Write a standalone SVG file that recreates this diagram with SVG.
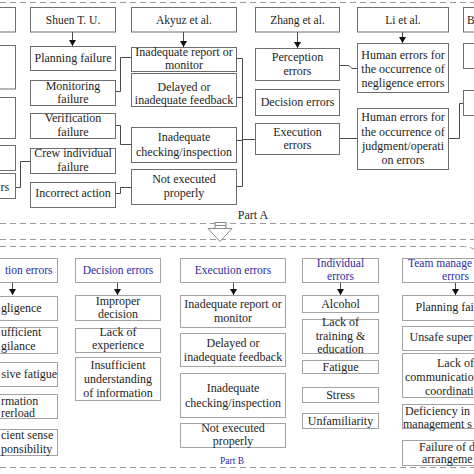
<svg xmlns="http://www.w3.org/2000/svg" width="474" height="474" viewBox="0 0 474 474">
<defs>
<style>
.bA{fill:#fff;stroke:#6e6e6e;stroke-width:1}
.bB{fill:#fff;stroke:#a3a3a3;stroke-width:1}
.t{font-family:"Liberation Serif","Times New Roman",serif;font-size:12px;fill:#1e1e1e;text-anchor:middle}
.h{font-size:11.5px}
.bl{fill:#2c2ca6}
.s{text-anchor:start}
.e{text-anchor:end}
.c{fill:none;stroke:#4a4a4a;stroke-width:1}
.d{fill:none;stroke:#9a9a9a;stroke-width:1;stroke-dasharray:6 4}
</style>
<marker id="ar" viewBox="0 0 6 7" refX="6" refY="3.5" markerWidth="6" markerHeight="7" markerUnits="userSpaceOnUse" orient="auto">
<path d="M0,0 L6,3.5 L0,7 z" fill="#111"/>
</marker>
</defs>
<rect width="474" height="474" fill="#fff"/>

<g id="frames">
<path class="d" d="M0,2.5 H474"/>
<path class="d" d="M0,223.5 H474"/>
<path class="d" d="M0,239.5 H474"/>
<path class="d" d="M0,246.5 H462 Q472,246.5 476,251"/>
<path class="d" d="M0,467.5 H474"/>
<text class="t" x="253" y="219">Part A</text>
<text class="t bl" x="232" y="464" style="font-size:9.5px">Part B</text>
</g>

<g id="connectors">
<path class="c" d="M72.5,32 V46" marker-end="url(#ar)"/>
<path class="c" d="M183.5,32 V47" marker-end="url(#ar)"/>
<path class="c" d="M297.5,32 V48" marker-end="url(#ar)"/>
<path class="c" d="M402.5,32 V43" marker-end="url(#ar)"/>
<path class="c" d="M15.5,187.5 H20.5 V161.5 H30.5"/>
<path class="c" d="M115.5,91.5 H120.5 V57.5 H131.5"/>
<path class="c" d="M115.5,125.5 H120.5 V144.5 H131.5"/>
<path class="c" d="M115.5,193.5 H120.5 V187.5 H131.5"/>
<path class="c" d="M236.5,58.5 H242.5 V186.5 H236.5"/>
<path class="c" d="M236.5,97.5 H242.5"/>
<path class="c" d="M236.5,140.5 H242.5"/>
<path class="c" d="M242.5,139.5 H255.5"/>
<path class="c" d="M339.5,65.5 H349 L352,68.5 H357.5"/>
<path class="c" d="M339.5,138.5 H357.5"/>
<path class="c" d="M448.5,138.5 H459.5 V103.5 H463.5"/>
<path class="c" d="M12.5,282 V295" marker-end="url(#ar)"/>
<path class="c" d="M117.5,282 V295" marker-end="url(#ar)"/>
<path class="c" d="M233.5,282 V295" marker-end="url(#ar)"/>
<path class="c" d="M340.5,282 V295" marker-end="url(#ar)"/>
<path class="c" d="M455.5,282 V295" marker-end="url(#ar)"/>
<g id="down-arrow">
<polygon points="208,228.5 232,228.5 220,241.5" fill="#fff" stroke="#8a8a8a"/>
<rect x="215" y="222.5" width="11" height="6" fill="#fff" stroke="#8a8a8a"/>
<path d="M215,225.5 H226" stroke="#8a8a8a"/>
</g>
</g>

<g id="col0">
<rect class="bA" x="-20" y="7.5" width="35.5" height="24.5"/>
<rect class="bA" x="-20" y="45.5" width="35.5" height="43.5"/>
<rect class="bA" x="-20" y="97.5" width="35.5" height="41"/>
<rect class="bA" x="-20" y="145.5" width="35.5" height="25"/>
<g id="col0-errors"><rect class="bA" x="-20" y="173.5" width="35.5" height="25"/><text class="t s" x="0.5" y="191">rs</text></g>
</g>

<g id="shuen">
<g id="shuen-h"><rect class="bA" x="30.5" y="7.5" width="85" height="24.5"/><text class="t h" x="73" y="24">Shuen T. U.</text></g>
<g id="shuen-1"><rect class="bA" x="30.5" y="46.5" width="85" height="24"/><text class="t" x="73" y="62">Planning failure</text></g>
<g id="shuen-2"><rect class="bA" x="30.5" y="80.5" width="85" height="25"/><text class="t" x="73" y="90">Monitoring</text><text class="t" x="73" y="103">failure</text></g>
<g id="shuen-3"><rect class="bA" x="30.5" y="113.5" width="85" height="25"/><text class="t" x="73" y="122">Verification</text><text class="t" x="73" y="136">failure</text></g>
<g id="shuen-4"><rect class="bA" x="30.5" y="148.5" width="85" height="25"/><text class="t" x="73" y="157">Crew individual</text><text class="t" x="73" y="171">failure</text></g>
<g id="shuen-5"><rect class="bA" x="30.5" y="182.5" width="85" height="25"/><text class="t" x="73" y="197">Incorrect action</text></g>
</g>

<g id="akyuz">
<g id="akyuz-h"><rect class="bA" x="131.5" y="7.5" width="105" height="24.5"/><text class="t h" x="184" y="24">Akyuz et al.</text></g>
<g id="akyuz-1"><rect class="bA" x="131.5" y="47.5" width="105" height="24"/><text class="t" x="184" y="55.5">Inadequate report or</text><text class="t" x="184" y="69">monitor</text></g>
<g id="akyuz-2"><rect class="bA" x="131.5" y="73.5" width="105" height="33"/><text class="t" x="184" y="91">Delayed or</text><text class="t" x="184" y="104">inadequate feedback</text></g>
<g id="akyuz-3"><rect class="bA" x="131.5" y="127.5" width="105" height="35"/><text class="t" x="184" y="141">Inadequate</text><text class="t" x="184" y="155.5">checking/inspection</text></g>
<g id="akyuz-4"><rect class="bA" x="131.5" y="169.5" width="105" height="35"/><text class="t" x="184" y="183">Not executed</text><text class="t" x="184" y="197">properly</text></g>
</g>

<g id="zhang">
<g id="zhang-h"><rect class="bA" x="255.5" y="7.5" width="84" height="24.5"/><text class="t h" x="297.5" y="24">Zhang et al.</text></g>
<g id="zhang-1"><rect class="bA" x="255.5" y="48.5" width="84" height="32"/><text class="t" x="297.5" y="61">Perception</text><text class="t" x="297.5" y="74.5">errors</text></g>
<g id="zhang-2"><rect class="bA" x="255.5" y="89.5" width="84" height="26"/><text class="t" x="297.5" y="106">Decision errors</text></g>
<g id="zhang-3"><rect class="bA" x="255.5" y="123.5" width="84" height="31"/><text class="t" x="297.5" y="136">Execution</text><text class="t" x="297.5" y="149">errors</text></g>
</g>

<g id="li">
<g id="li-h"><rect class="bA" x="357.5" y="7.5" width="91" height="24.5"/><text class="t h" x="403" y="24">Li et al.</text></g>
<g id="li-1"><rect class="bA" x="357.5" y="43.5" width="91" height="49"/><text class="t" x="403" y="59">Human errors for</text><text class="t" x="403" y="73">the occurrence of</text><text class="t" x="403" y="87">negligence errors</text></g>
<g id="li-2"><rect class="bA" x="357.5" y="108.5" width="91" height="61"/><text class="t" x="403" y="121">Human errors for</text><text class="t" x="403" y="135.5">the occurrence of</text><text class="t" x="403" y="150">judgment/operati</text><text class="t" x="403" y="164">on errors</text></g>
</g>

<g id="col5">
<g id="col5-h"><rect class="bA" x="463.5" y="7.5" width="100" height="24.5"/><text class="t h s" x="467" y="24">B</text></g>
<rect class="bA" x="463.5" y="43.5" width="100" height="25"/>
<rect class="bA" x="463.5" y="90.5" width="100" height="25"/>
</g>

<g id="perception">
<g id="perc-h"><rect class="bB" x="-33.5" y="258.5" width="91" height="24"/><text class="t h bl e" x="52.5" y="274">tion errors</text></g>
<g id="perc-1"><rect class="bB" x="-33.5" y="296.5" width="91" height="24"/><text class="t s" x="1" y="312">gligence</text></g>
<g id="perc-2"><rect class="bB" x="-33.5" y="327.5" width="91" height="26"/><text class="t s" x="1" y="336">ufficient</text><text class="t s" x="1" y="350">gilance</text></g>
<g id="perc-3"><rect class="bB" x="-33.5" y="362.5" width="91" height="24"/><text class="t s" x="1.5" y="378">sive fatigue</text></g>
<g id="perc-4"><rect class="bB" x="-33.5" y="394.5" width="91" height="24"/><text class="t s" x="1" y="404.5">rmation</text><text class="t s" x="1" y="417">rerload</text></g>
<g id="perc-5"><rect class="bB" x="-33.5" y="429.5" width="91" height="26"/><text class="t s" x="1" y="439">cient sense</text><text class="t s" x="1" y="453">ponsibility</text></g>
</g>

<g id="decision">
<g id="dec-h"><rect class="bB" x="75.5" y="258.5" width="85" height="24"/><text class="t h bl" x="118" y="274">Decision errors</text></g>
<g id="dec-1"><rect class="bB" x="75.5" y="295.5" width="85" height="25"/><text class="t" x="118" y="305">Improper</text><text class="t" x="118" y="318">decision</text></g>
<g id="dec-2"><rect class="bB" x="75.5" y="328.5" width="85" height="24"/><text class="t" x="118" y="335.5">Lack of</text><text class="t" x="118" y="349">experience</text></g>
<g id="dec-3"><rect class="bB" x="75.5" y="357.5" width="85" height="43"/><text class="t" x="118" y="369">Insufficient</text><text class="t" x="118" y="383">understanding</text><text class="t" x="118" y="397">of information</text></g>
</g>

<g id="execution">
<g id="exe-h"><rect class="bB" x="180.5" y="258.5" width="105" height="24"/><text class="t h bl" x="233" y="274">Execution errors</text></g>
<g id="exe-1"><rect class="bB" x="180.5" y="295.5" width="105" height="32"/><text class="t" x="233" y="308">Inadequate report or</text><text class="t" x="233" y="322">monitor</text></g>
<g id="exe-2"><rect class="bB" x="180.5" y="333.5" width="105" height="33"/><text class="t" x="233" y="347">Delayed or</text><text class="t" x="233" y="360.5">inadequate feedback</text></g>
<g id="exe-3"><rect class="bB" x="180.5" y="373.5" width="105" height="44"/><text class="t" x="233" y="391.5">Inadequate</text><text class="t" x="233" y="407">checking/inspection</text></g>
<g id="exe-4"><rect class="bB" x="180.5" y="423.5" width="105" height="24"/><text class="t" x="233" y="432">Not executed</text><text class="t" x="233" y="444.5">properly</text></g>
</g>

<g id="individual">
<g id="ind-h"><rect class="bB" x="302.5" y="258.5" width="76" height="24"/><text class="t h bl" x="340.5" y="267">Individual</text><text class="t h bl" x="340.5" y="280">errors</text></g>
<g id="ind-1"><rect class="bB" x="302.5" y="295.5" width="76" height="17"/><text class="t" x="340.5" y="307.5">Alcohol</text></g>
<g id="ind-2"><rect class="bB" x="302.5" y="319.5" width="76" height="34"/><text class="t" x="340.5" y="326">Lack of</text><text class="t" x="340.5" y="340">training &amp;</text><text class="t" x="340.5" y="353">education</text></g>
<g id="ind-3"><rect class="bB" x="302.5" y="360.5" width="76" height="13"/><text class="t" x="340.5" y="371">Fatigue</text></g>
<g id="ind-4"><rect class="bB" x="302.5" y="387.5" width="76" height="15"/><text class="t" x="340.5" y="399">Stress</text></g>
<g id="ind-5"><rect class="bB" x="302.5" y="413.5" width="76" height="15"/><text class="t" x="340.5" y="425">Unfamiliarity</text></g>
</g>

<g id="team">
<g id="team-h"><rect class="bB" x="402.5" y="258.5" width="106" height="24"/><text class="t h bl s" x="408" y="267">Team manage</text><text class="t h bl" x="455.5" y="280">errors</text></g>
<g id="team-1"><rect class="bB" x="402.5" y="295.5" width="106" height="25"/><text class="t s" x="415.5" y="311">Planning fai</text></g>
<g id="team-2"><rect class="bB" x="402.5" y="326.5" width="106" height="24"/><text class="t s" x="409.5" y="341">Unsafe super</text></g>
<g id="team-3"><rect class="bB" x="402.5" y="353.5" width="106" height="44"/><text class="t s" x="437" y="367">Lack of</text><text class="t s" x="405" y="381">communicatio</text><text class="t s" x="425" y="395">coordinati</text></g>
<g id="team-4"><rect class="bB" x="402.5" y="404.5" width="106" height="24"/><text class="t s" x="405" y="415">Deficiency in</text><text class="t s" x="403" y="427.5">management s</text></g>
<g id="team-5"><rect class="bB" x="402.5" y="440.5" width="106" height="25"/><text class="t s" x="419" y="450.5">Failure of d</text><text class="t s" x="422" y="463">arrangeme</text></g>
</g>
</svg>
